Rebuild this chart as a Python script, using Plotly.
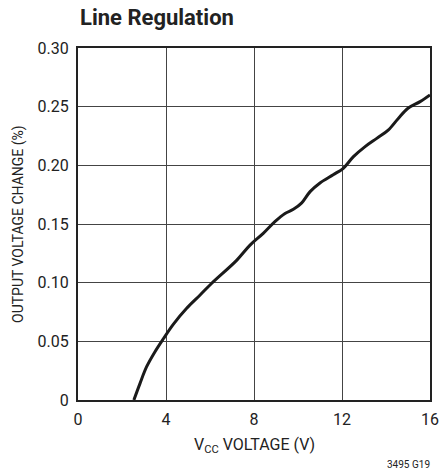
import plotly.graph_objects as go

# curve
vcc = [2.54, 2.82, 3.12, 3.5, 3.88, 4.33, 4.94, 5.55, 6.08, 7.21, 7.82, 8.42,
       8.95, 9.41, 9.79, 10.17, 10.55, 11.0, 11.6, 12.06, 12.52, 13.05, 13.58,
       14.1, 14.56, 15.0, 15.55, 16.0]
change = [0.0, 0.0142, 0.0284, 0.0412, 0.0522, 0.0645, 0.0782, 0.0895, 0.0995,
          0.119, 0.132, 0.142, 0.152, 0.159, 0.1625, 0.168, 0.1776, 0.185,
          0.192, 0.1975, 0.2074, 0.216, 0.223, 0.230, 0.240, 0.2486, 0.2543,
          0.260]

x_ticks = [0, 4, 8, 12, 16]
y_ticks = [0, 0.05, 0.10, 0.15, 0.20, 0.25, 0.30]
y_labels = ["0", "0.05", "0.10", "0.15", "0.20", "0.25", "0.30"]

FONT = "Liberation Sans Narrow, Arial Narrow, Roboto, sans-serif"
INK = "#222"

fig = go.Figure()
fig.add_trace(
    go.Scatter(
        x=vcc,
        y=change,
        mode="lines",
        line=dict(color="#1a1a1a", width=3, shape="spline", smoothing=1.0),
        showlegend=False,
        hoverinfo="skip",
    )
)

axis_style = dict(
    showgrid=True,
    gridcolor="#444",
    gridwidth=1,
    zeroline=False,
    showline=True,
    linecolor=INK,
    linewidth=2,
    mirror=True,
    ticks="",
    automargin=False,
    tickfont=dict(size=16, color=INK),
)
fig.update_xaxes(range=[0, 16], tickvals=x_ticks, ticklabelstandoff=4, **axis_style)
fig.update_yaxes(range=[0, 0.30], tickvals=y_ticks, ticktext=y_labels,
                 ticklabelstandoff=4, **axis_style)

# titles placed as annotations (pixel offsets from the plot box)
fig.add_annotation(
    text="<b>Line Regulation</b>",
    xref="paper", yref="paper", x=0, y=1, yshift=31,
    xanchor="left", yanchor="middle", showarrow=False,
    font=dict(size=22, color=INK),
)
fig.add_annotation(
    text="V<sub>CC</sub> VOLTAGE (V)",
    xref="paper", yref="paper", x=0.5, y=0, yshift=-45,
    xanchor="center", yanchor="middle", showarrow=False,
    font=dict(size=16, color=INK),
)
fig.add_annotation(
    text="OUTPUT VOLTAGE CHANGE (%)",
    xref="paper", yref="paper", x=0, y=0.5, xshift=-60,
    xanchor="center", yanchor="middle", textangle=-90, showarrow=False,
    font=dict(size=14, color=INK),
)
fig.add_annotation(
    text="3495 G19",
    xref="paper", yref="paper", x=1, y=0, yshift=-64, xshift=2,
    xanchor="right", yanchor="middle", showarrow=False,
    font=dict(size=10, color=INK),
)

fig.update_layout(
    width=440,
    height=470,
    margin=dict(l=78, r=10, t=48, b=70),
    plot_bgcolor="white",
    paper_bgcolor="white",
    font=dict(family=FONT, color=INK),
)

# drop the default body margin so the figure fills the window exactly
fig.write_html(
    "out.html",
    config={"displayModeBar": False},
    post_script="document.body.style.margin='0'; document.body.style.overflow='hidden';",
)
